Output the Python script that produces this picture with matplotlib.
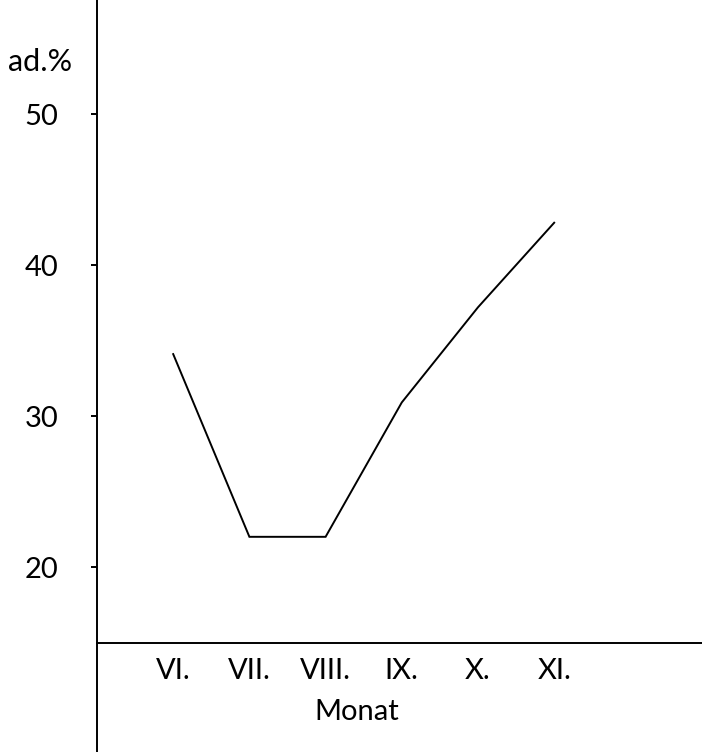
import matplotlib
matplotlib.use("Agg")
import matplotlib.pyplot as plt

# data
months = ["VI.", "VII.", "VIII.", "IX.", "X.", "XI."]
values = [34.1, 22.0, 22.0, 30.9, 37.2, 42.8]
yticks = [20, 30, 40, 50]

plt.rcParams['font.family'] = ['Lato', 'DejaVu Sans']
plt.rcParams['font.weight'] = 'normal'

W, H = 702, 752
fig = plt.figure(figsize=(W / 100, H / 100), dpi=100)
ax = fig.add_axes([97 / W, 0, 1 - 97 / W, 1])

xs = list(range(len(months)))
ax.plot(xs, values, color='black', lw=1.4, solid_joinstyle='miter')

ax.set_xlim(-1.0, 6.94)
ax.set_ylim(7.75, 57.55)

ax.spines['top'].set_visible(False)
ax.spines['right'].set_visible(False)
ax.spines['bottom'].set_position(('data', 15))
for s in ('left', 'bottom'):
    ax.spines[s].set_linewidth(1.4)

ax.set_xticks(xs)
ax.set_xticklabels(months, fontsize=21)
ax.tick_params(axis='x', length=0, pad=11)
ax.set_yticks(yticks)
ax.set_yticklabels([str(v) for v in yticks], fontsize=21)
ax.tick_params(axis='y', length=4, width=1.4, pad=24)

fig.text(8 / W, 1 - 62 / H, "ad.%", fontsize=22, va='center', ha='left')
fig.text(357 / W, 1 - 712 / H, "Monat", fontsize=21, va='center', ha='center')

fig.savefig("out.png", dpi=100)
